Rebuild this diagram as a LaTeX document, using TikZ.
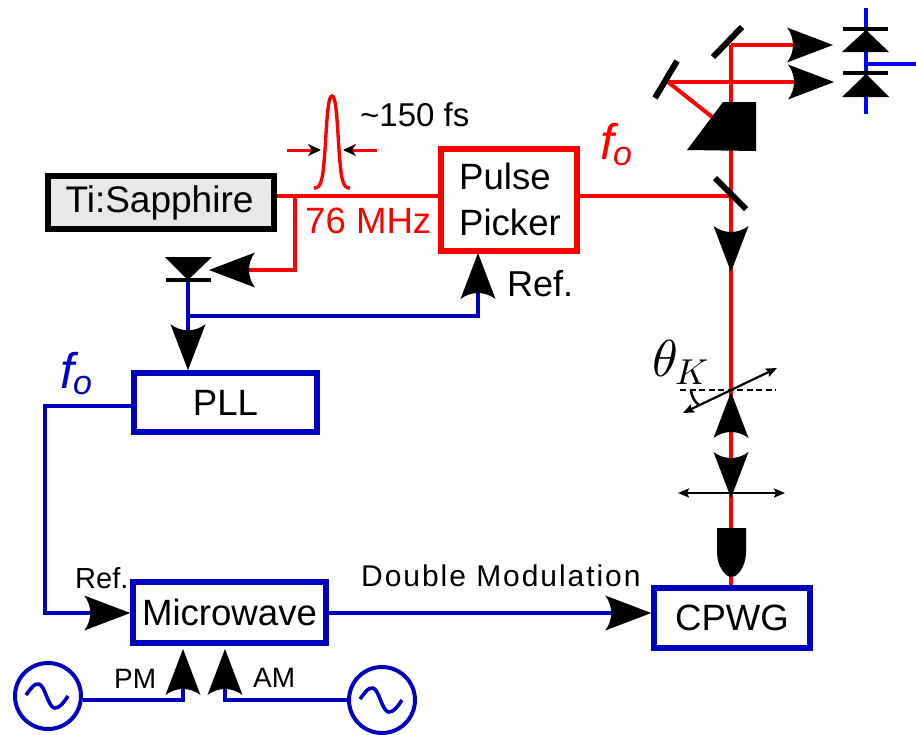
\documentclass[tikz,border=0pt]{standalone}
\usepackage{fontspec}
\setmainfont{Liberation Sans}
\newfontfamily\spacedfont[LetterSpace=6.5]{Liberation Sans}
\usetikzlibrary{arrows.meta}
\definecolor{dblue}{RGB}{0,0,190}
\definecolor{tibg}{RGB}{232,232,232}
\pgfdeclarearrow{
  name=BigHead,
  cache=false,
  bending mode=none,
  setup code={\pgfarrowssettipend{46pt}\pgfarrowssetbackend{0pt}\pgfarrowssetlineend{7pt}\pgfarrowssavethe\pgfarrowlength},
  drawing code={%
    \pgfsetfillcolor{black}%
    \pgfpathmoveto{\pgfqpoint{46pt}{0pt}}%
    \pgfpathlineto{\pgfqpoint{0pt}{17.5pt}}%
    \pgfpathcurveto{\pgfqpoint{8pt}{7pt}}{\pgfqpoint{8pt}{-7pt}}{\pgfqpoint{0pt}{-17.5pt}}%
    \pgfpathclose\pgfusepathqfill}
}
\newcommand{\fs}[1]{\fontsize{#1}{#1}\selectfont}
\tikzset{
  redbeam/.style={draw=red,line width=4pt},
  bluewire/.style={draw=dblue,line width=4pt},
  bright/.style={draw=blue,line width=4pt},
  boxblue/.style={draw=dblue,line width=5.5pt,fill=white,inner sep=0pt,align=center},
  boxred/.style={draw=red,line width=6.5pt,fill=white,inner sep=0pt,align=left,font={\fontsize{36.6}{46}\selectfont}},
  boxblack/.style={draw=black,line width=6pt,fill=tibg,inner sep=0pt,align=center},
  osc/.style={circle,draw=dblue,line width=4pt,minimum size=66pt,inner sep=0pt,fill=white},
  sinewave/.style={draw=dblue,line width=3.6pt},
  mirror/.style={draw=black,line width=6pt},
  solid black/.style={fill=black,draw=none},
  bar/.style={draw=black,line width=3.5pt},
  lab/.style={text=black,inner sep=0pt,anchor=base},
  big/.style={-{BigHead}},
  smalltip/.style={-{Stealth[black,length=13pt,width=12pt,inset=4pt]}},
  thin arrows/.style={draw=black,line width=2.2pt,{Stealth[length=11pt,width=9pt,inset=2pt]}-{Stealth[length=11pt,width=9pt,inset=2pt]}}
}
\begin{document}
\begin{tikzpicture}[x=1pt,y=-1pt]
\useasboundingbox (0,0) rectangle (916,734);
% boxes
\node[boxblack,minimum width=226pt,minimum height=53pt] (ti) at (161,202.5) {\fs{37}\raisebox{-1pt}{\kern-3pt Ti:Sapphire}};
\node[boxred,minimum width=136pt,minimum height=102pt] (picker) at (509,200) {\kern2pt\raisebox{2pt}{Pulse}\\\kern2pt\raisebox{2pt}{Picker}};
\node[boxblue,minimum width=183pt,minimum height=59pt] (pll) at (225.5,402.5) {\fs{36.6}PLL};
\node[boxblue,minimum width=193pt,minimum height=61pt] (mw) at (229.5,612.5) {\fs{36.6}Microwave};
\node[boxblue,minimum width=156pt,minimum height=60pt] (cpwg) at (732,618) {\fs{36.6}CPWG};
\node[osc] (oscL) at (48,696) {};
\node[osc] (oscR) at (382,700) {};
\draw[sinewave] (26,695) .. controls (34,684) and (38,680) .. (43,688) .. controls (47,696) and (50,708) .. (55,708) .. controls (60,708) and (64,702) .. (68,696);
\draw[sinewave] (360,699) .. controls (368,688) and (372,684) .. (377,692) .. controls (381,700) and (384,712) .. (389,712) .. controls (394,712) and (398,706) .. (402,700);
% coordinates
\coordinate (split) at (295,196);
\coordinate (pdtip) at (209,270);
\coordinate (pdcorner) at (295,270);
\coordinate (pdtop) at (188,280);
\coordinate (pdjoin) at (188,316);
\coordinate (refcorner) at (478,316);
\coordinate (reftip) at (478,253);
\coordinate (pllcorner1) at (45,406);
\coordinate (pllcorner2) at (45,613);
\coordinate (pmcorner) at (183,700);
\coordinate (pmtip) at (183,649);
\coordinate (amcorner) at (225,700);
\coordinate (amtip) at (225,649);
% red beams
\coordinate (m3) at (731,196);
\coordinate (beamtop) at (731,45);
\coordinate (d1tip) at (833,45);
\coordinate (m2) at (668,82);
\coordinate (d2tip) at (834,82);
\coordinate (prismhit) at (716,120);
\draw[redbeam] (ti.east |- split) -- (picker.west |- split);
\draw[redbeam] (picker.east |- split) -- (m3);
\draw[redbeam] (cpwg.north -| m3) -- (beamtop);
\draw[redbeam,line cap=rect] (split) -- (pdcorner);
\draw[redbeam,big] (pdcorner) -- (pdtip);
\draw[redbeam,big] (beamtop) -- (d1tip);
\draw[redbeam,big] (m2) -- (d2tip);
\draw[redbeam] (m2) -- (prismhit);
% pulse
\coordinate (pL) at (287,150);
\coordinate (pLt) at (321,150);
\coordinate (pR) at (377,150);
\coordinate (pRt) at (343,150);
\draw[draw=red,line width=3pt,smalltip] (pL) -- (pLt);
\draw[draw=red,line width=3pt,smalltip] (pR) -- (pRt);
\draw[draw=red,line width=3.4pt] (314,188) .. controls (322,189) and (323,176) .. (325,150) .. controls (327,118) and (328,96) .. (332,96) .. controls (336,96) and (337,118) .. (339,150) .. controls (341,176) and (342,189) .. (350,188);
% optics
\fill[solid black] (723,102) -- (756,102) -- (756,151) -- (687,150) -- cycle;
\draw[mirror] (742,27) -- (713,57);
\draw[mirror] (677,61) -- (655,98);
\draw[mirror] (715,178) -- (746,209);
\coordinate (bA) at (731,226);
\coordinate (bAt) at (731,272);
\coordinate (bB) at (731,438);
\coordinate (bC) at (731,452);
\draw[redbeam,big] (bA) -- (bAt);
\draw[redbeam,big] (bB) -- ++(0,-46);
\draw[redbeam,big] (bC) -- ++(0,46);
% objective
\fill[solid black] (717,528) -- (746,528) -- (746,552) .. controls (746,566) and (738,577) .. (731.5,577) .. controls (725,577) and (717,566) .. (717,552) -- cycle;
% lens & analyzer
\coordinate (lensL) at (678,493);
\coordinate (lensR) at (785,493);
\draw[thin arrows] (lensL) -- (lensR);
\coordinate (anL) at (683,413);
\coordinate (anR) at (777,368);
\draw[thin arrows] (anL) -- (anR);
\coordinate (dashL) at (680,390);
\coordinate (dashR) at (776,390);
\draw[draw=black,line width=2.6pt,dash pattern=on 6pt off 3.5pt] (dashL) -- (dashR);
\draw[draw=black,line width=2.4pt] (691,390) .. controls (692,398) and (695,402) .. (699,405);
\node[lab,anchor=base west,text=black] (theta) at (652,376) {\scalebox{5.2}{$\theta$}};
\node[lab,anchor=base west,text=black] (kk) at (675,384) {\scalebox{3.6}{$K$}};
% balanced diodes
\draw[bright] (866,8) -- (866,114);
\draw[bright] (866,64) -- (916,64);
\fill[solid black] (866,30) -- (889,52) -- (842,52) -- cycle;
\fill[solid black] (866,74) -- (889,97) -- (842,97) -- cycle;
\draw[bar] (843,29) -- (888,29);
\draw[bar] (843,73) -- (888,73);
% electrical wires
\draw[bluewire] (pdtop) -- (pdjoin);
\draw[bluewire,big] (pdjoin) -- (pll.north -| pdjoin);
\draw[bluewire,big] (pdjoin) -- (refcorner) -- (reftip);
\draw[bluewire,big] (pll.west |- pllcorner1) -- (pllcorner1) -- (pllcorner2) -- (mw.west |- pllcorner2);
\draw[bluewire,big] (mw.east |- pllcorner2) -- (cpwg.west |- pllcorner2);
\draw[bluewire,big] (oscL.east |- pmcorner) -- (pmcorner) -- (pmtip);
\draw[bluewire,big] (oscR.west) -- (amcorner) -- (amtip);
% photodiode
\fill[solid black] (165,257) -- (212,257) -- (188,280) -- cycle;
\draw[bar] (166,280) -- (211,280);
% labels
\node[lab,anchor=base west] (t150) at (360,126) {\fs{33}\char"7E 150 fs};
\node[lab,anchor=base west,text=red] (t76) at (305,233) {\fs{36.6}76 MHz};
\node[lab,anchor=base west] (tref) at (507,296) {\fs{36}Ref.};
\node[lab,anchor=base west] (tref2) at (75,588) {\fs{29}Ref.};
\node[lab,anchor=base west] (tpm) at (114,688) {\fs{28}PM};
\node[lab,anchor=base west] (tam) at (253,687) {\fs{28}AM};
\node[lab,anchor=base west] (tdm) at (361,586) {\fs{30}\spacedfont Double Modulation};
\node[lab,anchor=base west,text=red] (f1) at (600,159) {\fs{50}\itshape f\kern-1pt\raisebox{-6pt}{\fs{34}o}};
\node[lab,anchor=base west,text=dblue] (f2) at (60,388) {\fs{50}\itshape f\kern-1pt\raisebox{-6pt}{\fs{34}o}};
\end{tikzpicture}
\end{document}
